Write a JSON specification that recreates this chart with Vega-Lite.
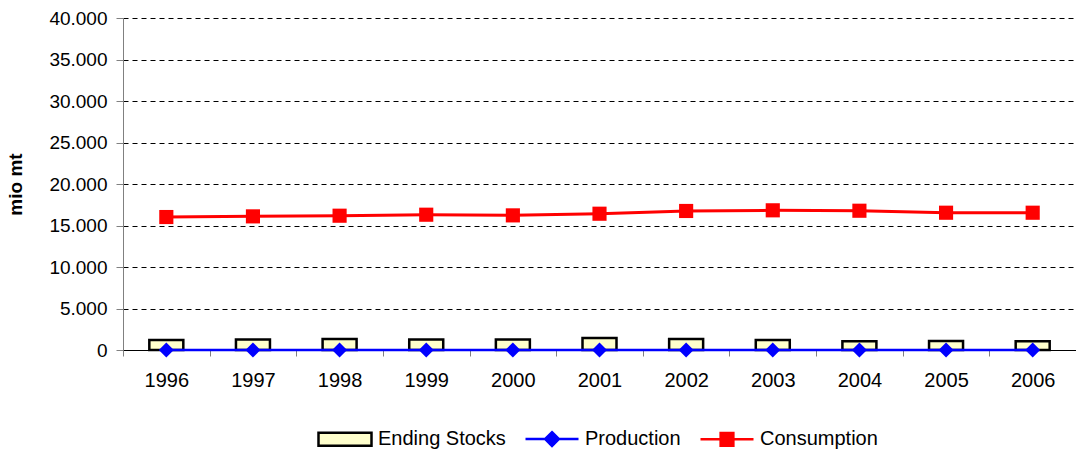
{
  "$schema": "https://vega.github.io/schema/vega-lite/v6.json",
  "width": 953,
  "height": 332,
  "autosize": "none",
  "padding": {"left": 123, "top": 18, "right": 0, "bottom": 106},
  "background": "white",
  "config": {
    "font": "Liberation Sans",
    "view": {"stroke": null}
  },
  "data": {
    "values": [
      {"year": "1996", "series": "Ending Stocks", "value": 1200},
      {"year": "1997", "series": "Ending Stocks", "value": 1280},
      {"year": "1998", "series": "Ending Stocks", "value": 1330},
      {"year": "1999", "series": "Ending Stocks", "value": 1280},
      {"year": "2000", "series": "Ending Stocks", "value": 1280},
      {"year": "2001", "series": "Ending Stocks", "value": 1450},
      {"year": "2002", "series": "Ending Stocks", "value": 1330},
      {"year": "2003", "series": "Ending Stocks", "value": 1200},
      {"year": "2004", "series": "Ending Stocks", "value": 1040},
      {"year": "2005", "series": "Ending Stocks", "value": 1080},
      {"year": "2006", "series": "Ending Stocks", "value": 1040},
      {"year": "1996", "series": "Production", "value": 0},
      {"year": "1997", "series": "Production", "value": 0},
      {"year": "1998", "series": "Production", "value": 0},
      {"year": "1999", "series": "Production", "value": 0},
      {"year": "2000", "series": "Production", "value": 0},
      {"year": "2001", "series": "Production", "value": 0},
      {"year": "2002", "series": "Production", "value": 0},
      {"year": "2003", "series": "Production", "value": 0},
      {"year": "2004", "series": "Production", "value": 0},
      {"year": "2005", "series": "Production", "value": 0},
      {"year": "2006", "series": "Production", "value": 0},
      {"year": "1996", "series": "Consumption", "value": 16020},
      {"year": "1997", "series": "Consumption", "value": 16100},
      {"year": "1998", "series": "Consumption", "value": 16180},
      {"year": "1999", "series": "Consumption", "value": 16300},
      {"year": "2000", "series": "Consumption", "value": 16220},
      {"year": "2001", "series": "Consumption", "value": 16420},
      {"year": "2002", "series": "Consumption", "value": 16750},
      {"year": "2003", "series": "Consumption", "value": 16830},
      {"year": "2004", "series": "Consumption", "value": 16780},
      {"year": "2005", "series": "Consumption", "value": 16540},
      {"year": "2006", "series": "Consumption", "value": 16540}
    ]
  },
  "encoding": {
    "x": {
      "field": "year",
      "type": "ordinal",
      "scale": {"type": "band", "paddingInner": 0, "paddingOuter": 0},
      "axis": {
        "title": null,
        "labelAngle": 0,
        "labelFontSize": 20,
        "labelColor": "#000000",
        "labelPadding": 14,
        "tickBand": "extent",
        "tickSize": 6,
        "tickColor": "#808080",
        "domainColor": "#000000",
        "domainWidth": 1,
        "grid": false
      }
    },
    "y": {
      "field": "value",
      "type": "quantitative",
      "scale": {"domain": [0, 40000], "nice": false},
      "axis": {
        "title": "mio mt",
        "titleFontSize": 19,
        "titleFontWeight": "bold",
        "titleColor": "#000000",
        "titlePadding": 23,
        "values": [0, 5000, 10000, 15000, 20000, 25000, 30000, 35000, 40000],
        "labelExpr": "replace(format(datum.value, ','), ',', '.')",
        "labelFontSize": 19,
        "labelColor": "#000000",
        "labelPadding": 9,
        "tickSize": 7,
        "tickColor": "#808080",
        "domainColor": "#808080",
        "grid": true,
        "gridColor": "#000000",
        "gridDash": [5, 4],
        "gridWidth": 1
      }
    },
    "stroke": {
      "field": "series",
      "type": "nominal",
      "scale": {
        "domain": ["Ending Stocks", "Production", "Consumption"],
        "range": ["#000000", "#0000FF", "#FF0000"]
      },
      "legend": {
        "orient": "none",
        "direction": "horizontal",
        "legendX": 194,
        "legendY": 393,
        "title": null,
        "padding": 0,
        "labelFontSize": 20,
        "labelColor": "#000000",
        "labelOffset": 5,
        "columnPadding": 14,
        "symbolSize": 2809,
        "symbolStrokeWidth": 2.5,
        "encode": {
          "symbols": {
            "update": {
              "shape": {"signal": "datum.label === 'Ending Stocks' ? 'M-1,-0.245H1V0.245H-1Z' : datum.label === 'Production' ? 'M-1,0H1M0,-0.26L0.26,0L0,0.26L-0.26,0Z' : 'M-1,0H1M-0.24,-0.24H0.24V0.24H-0.24Z'"},
              "strokeWidth": {"value": 2.5},
              "fillOpacity": {"value": 1},
              "opacity": {"value": 1}
            }
          }
        }
      }
    }
  },
  "layer": [
    {
      "transform": [{"filter": "datum.series === 'Ending Stocks'"}],
      "mark": {"type": "bar", "size": 34, "strokeWidth": 2.5},
      "encoding": {
        "fill": {
          "field": "series",
          "type": "nominal",
          "scale": {
            "domain": ["Ending Stocks", "Production", "Consumption"],
            "range": ["#FFFFCC", "#0000FF", "#FF0000"]
          },
          "legend": {
            "orient": "none",
            "direction": "horizontal",
            "legendX": 194,
            "legendY": 393,
            "title": null,
            "padding": 0,
            "labelFontSize": 20,
            "labelColor": "#000000",
            "labelOffset": 5,
            "columnPadding": 14,
            "symbolSize": 2809,
            "symbolStrokeWidth": 2.5,
            "encode": {
              "symbols": {
                "update": {
                  "shape": {"signal": "datum.label === 'Ending Stocks' ? 'M-1,-0.245H1V0.245H-1Z' : datum.label === 'Production' ? 'M-1,0H1M0,-0.26L0.26,0L0,0.26L-0.26,0Z' : 'M-1,0H1M-0.24,-0.24H0.24V0.24H-0.24Z'"},
                  "strokeWidth": {"value": 2.5},
                  "fillOpacity": {"value": 1},
                  "opacity": {"value": 1}
                }
              }
            }
          }
        }
      }
    },
    {
      "transform": [{"filter": "datum.series === 'Production'"}],
      "mark": {"type": "line", "strokeWidth": 2.5}
    },
    {
      "transform": [{"filter": "datum.series === 'Consumption'"}],
      "mark": {"type": "line", "strokeWidth": 3}
    },
    {
      "transform": [{"filter": "datum.series === 'Production'"}],
      "mark": {"type": "point", "shape": "diamond", "filled": true, "size": 225, "opacity": 1, "strokeWidth": 0},
      "encoding": {"fill": {"field": "series", "type": "nominal"}}
    },
    {
      "transform": [{"filter": "datum.series === 'Consumption'"}],
      "mark": {"type": "point", "shape": "square", "filled": true, "size": 200, "opacity": 1, "strokeWidth": 0},
      "encoding": {"fill": {"field": "series", "type": "nominal"}}
    }
  ]
}
